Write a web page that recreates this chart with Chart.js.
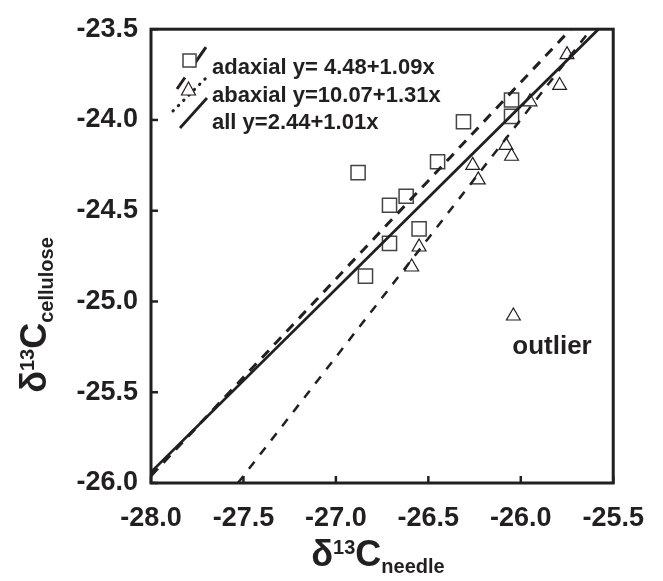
<!DOCTYPE html>
<html>
<head>
<meta charset="utf-8">
<script src="https://cdn.jsdelivr.net/npm/chart.js@4.4.0/dist/chart.umd.min.js"></script>
<style>
    html, body { margin: 0; padding: 0; background: #fff; }
    #wrap { width: 663px; height: 581px; }
</style>
</head>
<body>
<div id="wrap"><canvas id="chart"></canvas></div>
<script>
// adaxial samples (squares)
const adaxialX = [-26.88, -26.62, -26.71, -26.71, -26.84, -26.55, -26.05, -26.05, -26.31, -26.45];
const adaxialY = [-24.29, -24.42, -24.47, -24.68, -24.86, -24.60, -23.89, -23.98, -24.01, -24.23];

// abaxial samples (triangles)
const abaxialX = [-25.75, -25.79, -25.95, -26.08, -26.05, -26.26, -26.23, -26.55, -26.59];
const abaxialY = [-23.64, -23.81, -23.90, -24.14, -24.20, -24.25, -24.33, -24.70, -24.81];
const outlierX = [-26.04];
const outlierY = [-25.08];

// regression lines, end points as drawn
const adaxialFitX = [-28.0, -25.73];
const adaxialFitY = [-25.96, -23.5];
const abaxialFitX = [-27.53, -25.62];
const abaxialFitY = [-26.0, -23.5];
const allFitX = [-28.0, -25.58];
const allFitY = [-25.94, -23.5];

const legendLabels = ['adaxial y= 4.48+1.09x', 'abaxial y=10.07+1.31x', 'all y=2.44+1.01x'];
const xTicks = [-28.0, -27.5, -27.0, -26.5, -26.0, -25.5];
const yTicks = [-26.0, -25.5, -25.0, -24.5, -24.0, -23.5];

const ink = '#231f20';
const font = "'Liberation Sans', Arial, Helvetica, sans-serif";

function toPoints(xs, ys) {
    return xs.map((v, i) => ({ x: v, y: ys[i] }));
}

function lineSet(xs, ys, dash, width) {
    return {
        data: toPoints(xs, ys),
        showLine: true,
        borderColor: ink,
        borderWidth: width,
        borderDash: dash,
        pointRadius: 0,
        fill: false
    };
}

// draws mixed-size text pieces (super/subscripts) centred on cx
function drawParts(ctx, parts, cx, baseY) {
    let total = 0;
    parts.forEach(p => {
        ctx.font = `bold ${p.size}px ${font}`;
        p.w = ctx.measureText(p.t).width;
        total += p.w;
    });
    let x = cx - total / 2;
    ctx.textAlign = 'left';
    ctx.textBaseline = 'alphabetic';
    parts.forEach(p => {
        ctx.font = `bold ${p.size}px ${font}`;
        ctx.fillText(p.t, x, baseY + p.dy);
        x += p.w;
    });
}

const decor = {
    id: 'decor',
    afterDraw(chart) {
        const { ctx, chartArea: a, scales } = chart;
        ctx.save();
        ctx.strokeStyle = ink;
        ctx.fillStyle = ink;

        // frame
        ctx.lineWidth = 3;
        ctx.strokeRect(a.left, a.top, a.right - a.left, a.bottom - a.top);

        // inward ticks
        ctx.lineWidth = 2.5;
        xTicks.forEach(v => {
            const px = scales.x.getPixelForValue(v);
            ctx.beginPath();
            ctx.moveTo(px, a.bottom);
            ctx.lineTo(px, a.bottom - 7);
            ctx.stroke();
        });
        yTicks.forEach(v => {
            const py = scales.y.getPixelForValue(v);
            ctx.beginPath();
            ctx.moveTo(a.left, py);
            ctx.lineTo(a.left + 7, py);
            ctx.stroke();
        });

        // legend
        ctx.lineCap = 'butt';
        ctx.lineWidth = 3;
        ctx.setLineDash([14, 13, 24, 10]);
        ctx.beginPath(); ctx.moveTo(177, 89); ctx.lineTo(206, 47); ctx.stroke();
        ctx.lineCap = 'round';
        ctx.setLineDash([0.5, 7]);
        ctx.beginPath(); ctx.moveTo(173, 111); ctx.lineTo(208, 76); ctx.stroke();
        ctx.lineCap = 'butt';
        ctx.setLineDash([]);
        ctx.lineWidth = 2.8;
        ctx.beginPath(); ctx.moveTo(180, 128); ctx.lineTo(207, 98); ctx.stroke();

        ctx.fillStyle = '#fff';
        ctx.strokeStyle = '#444';
        ctx.lineWidth = 1.5;
        ctx.fillRect(183, 54, 13, 13);
        ctx.strokeRect(183, 54, 13, 13);
        ctx.strokeStyle = ink;
        ctx.lineWidth = 1.2;
        ctx.beginPath();
        ctx.moveTo(188.5, 82); ctx.lineTo(195.5, 95); ctx.lineTo(181.5, 95); ctx.closePath();
        ctx.fill(); ctx.stroke();

        ctx.fillStyle = ink;
        ctx.font = `bold 22px ${font}`;
        ctx.textAlign = 'left';
        ctx.textBaseline = 'alphabetic';
        ctx.fillText(legendLabels[0], 212, 74);
        ctx.fillText(legendLabels[1], 212, 102);
        ctx.fillText(legendLabels[2], 212, 129);

        // annotation
        ctx.font = `bold 26px ${font}`;
        ctx.textAlign = 'center';
        ctx.fillText('outlier', 552, 354);

        // axis titles
        const xParts = [
            { t: '\u03b4', size: 36, dy: 0 },
            { t: '13', size: 20, dy: -12 },
            { t: 'C', size: 36, dy: 0 },
            { t: 'needle', size: 20, dy: 7 }
        ];
        drawParts(ctx, xParts, 378, 566);

        const yParts = [
            { t: '\u03b4', size: 36, dy: 0 },
            { t: '13', size: 20, dy: -12 },
            { t: 'C', size: 36, dy: 0 },
            { t: 'cellulose', size: 20, dy: 7 }
        ];
        ctx.translate(46, 315);
        ctx.rotate(-Math.PI / 2);
        drawParts(ctx, yParts, 0, 0);

        ctx.restore();
    }
};

const ctx = document.getElementById('chart').getContext('2d');
new Chart(ctx, {
    type: 'scatter',
    data: {
        datasets: [
            lineSet(adaxialFitX, adaxialFitY, [10, 8], 3),
            lineSet(abaxialFitX, abaxialFitY, [9, 9], 2.5),
            lineSet(allFitX, allFitY, [], 2.8),
            {
                data: toPoints(adaxialX, adaxialY),
                pointStyle: 'rect',
                pointRadius: 10,
                pointBorderColor: '#444',
                pointBorderWidth: 1.5,
                pointBackgroundColor: 'rgba(0,0,0,0)'
            },
            {
                data: toPoints(abaxialX, abaxialY).concat(toPoints(outlierX, outlierY)),
                pointStyle: 'triangle',
                pointRadius: 8,
                pointBorderColor: ink,
                pointBorderWidth: 1.2,
                pointBackgroundColor: 'rgba(0,0,0,0)'
            }
        ]
    },
    options: {
        responsive: true,
        maintainAspectRatio: false,
        animation: false,
        events: [],
        layout: { padding: { top: 24, right: 35, left: 0, bottom: 0 } },
        plugins: {
            legend: { display: false },
            tooltip: { enabled: false }
        },
        scales: {
            x: {
                type: 'linear',
                min: -28,
                max: -25.5,
                afterFit: s => { s.height = 98; },
                afterBuildTicks: s => { s.ticks = xTicks.map(v => ({ value: v })); },
                grid: { display: false, drawTicks: false },
                border: { display: false },
                ticks: {
                    padding: 19,
                    color: ink,
                    font: { family: font, size: 27, weight: 'bold' },
                    callback: v => v.toFixed(1)
                }
            },
            y: {
                type: 'linear',
                min: -26,
                max: -23.5,
                afterFit: s => { s.width = 151; },
                afterBuildTicks: s => { s.ticks = yTicks.map(v => ({ value: v })); },
                grid: { display: false, drawTicks: false },
                border: { display: false },
                ticks: {
                    padding: 13,
                    color: ink,
                    font: { family: font, size: 27, weight: 'bold' },
                    callback: v => v.toFixed(1)
                }
            }
        }
    },
    plugins: [decor]
});
</script>
</body>
</html>
